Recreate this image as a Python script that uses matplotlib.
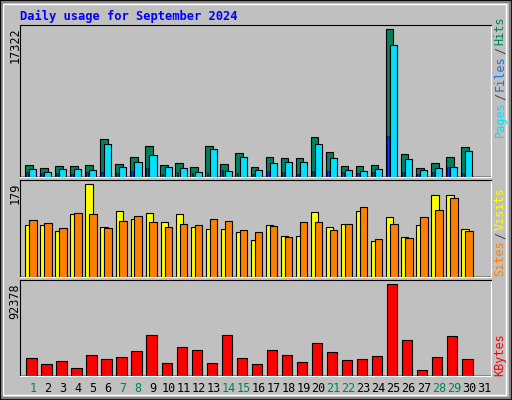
import numpy as np
import matplotlib
matplotlib.use("Agg")
import matplotlib.pyplot as plt
from matplotlib.patches import Rectangle

days = np.arange(1, 31)
day_labels = [str(d) for d in range(1, 32)]
weekend_days = [1, 7, 8, 14, 15, 21, 22, 28, 29]

hits = [1414, 1061, 1296, 1296, 1414, 4478, 1532, 2357, 3653, 1414, 1650, 1178, 3653, 1532, 2828,
        1178, 2357, 2239, 2239, 4713, 2946, 1296, 1296, 1414, 17322, 2710, 1061, 1650, 2357, 3535]
files = [943, 589, 943, 943, 825, 3889, 1178, 1768, 2592, 1178, 1061, 589, 3300, 707, 2357,
         825, 1650, 1768, 1768, 3889, 2239, 825, 707, 943, 15437, 2121, 825, 1061, 1178, 3064]
pages = [589, 471, 471, 354, 589, 589, 471, 707, 1061, 354, 589, 471, 471, 825, 471,
         354, 707, 589, 354, 707, 707, 589, 471, 589, 4831, 589, 354, 589, 1178, 471]
sites = [101, 101, 88, 121, 179, 97, 128, 113, 123, 107, 121, 97, 93, 93, 86,
         72, 101, 80, 80, 126, 97, 103, 128, 70, 115, 78, 101, 158, 158, 93]
visits = [111, 105, 95, 123, 121, 95, 109, 117, 107, 97, 103, 101, 113, 109, 90,
          86, 99, 78, 107, 107, 91, 103, 136, 74, 103, 76, 115, 130, 152, 88]
kbytes = [18274, 12182, 15228, 8122, 21319, 17258, 19289, 25380, 41623, 13198, 29441, 26395, 13198, 41623, 18274,
          12182, 26395, 21319, 14213, 33502, 24365, 16243, 17258, 20304, 92378, 36547, 6091, 19289, 40607, 17258]

BG = "#C0C0C0"
C_HITS, C_FILES, C_PAGES = "#00805C", "#00E0FF", "#0040FF"
C_SITES, C_VISITS, C_KB = "#FFFF00", "#FF8000", "#FF0000"
MONO = "DejaVu Sans Mono"

fig = plt.figure(figsize=(5.12, 4.0), dpi=100, facecolor=BG)
W, H = 512, 400

# bevel frame
fig.patches.append(Rectangle((0, 0), 1, 1, transform=fig.transFigure, fill=False,
                             edgecolor="black", lw=2))
fig.patches.append(Rectangle((2 / W, 2 / H), 1 - 4 / W, 1 - 4 / H, transform=fig.transFigure,
                             fill=False, edgecolor="#808080", lw=1.5))
fig.patches.append(Rectangle((3 / W, 5 / H), 1 - 9 / W, 1 - 9 / H, transform=fig.transFigure,
                             fill=False, edgecolor="white", lw=1))


def panel(top, bottom):
    ax = fig.add_axes([20 / W, 1 - bottom / H, 471 / W, (bottom - top) / H])
    ax.set_facecolor(BG)
    ax.set_xlim(0.135, 31.47)
    ax.set_xticks([])
    ax.set_yticks([])
    for s in ax.spines.values():
        s.set_color("black")
    ax.spines["right"].set_color("white")
    ax.spines["bottom"].set_color("white")
    for f in (1 / 3, 2 / 3):
        ax.axhline(f, color="#808080", lw=1.2, zorder=0)
    return ax


def rtext(pieces, x, y_bottom, size=8.5):
    # stacked vertical labels, bottom to top
    y = y_bottom
    for txt, col in pieces:
        t = fig.text(x / W, 1 - y / H, txt, rotation=90, color=col, family=MONO,
                     fontsize=size, ha="center", va="bottom")
        y -= len(txt) * 7.0 + 2


kw = dict(edgecolor="black", linewidth=0.8, align="edge")

ax1 = panel(25, 177)
ax1.set_ylim(0, 17322 * 151 / 147)
for f in (1 / 3, 2 / 3):
    ax1.lines.clear() if False else None
ax1.bar(days - 0.53, hits, width=0.51, color=C_HITS, **kw)
ax1.bar(days - 0.25, files, width=0.47, color=C_FILES, **kw)
ax1.bar(days - 0.45, pages, width=0.12, color=C_PAGES, edgecolor="black", linewidth=0.4, align="edge")
for a in [ax1]:
    for ln in a.lines:
        ln.set_transform(a.get_yaxis_transform())

ax2 = panel(180, 277)
ax2.set_ylim(0, 179 * 96 / 91.7)
ax2.bar(days - 0.51, sites, width=0.49, color=C_SITES, **kw)
ax2.bar(days - 0.25, visits, width=0.5, color=C_VISITS, **kw)
for ln in ax2.lines:
    ln.set_transform(ax2.get_yaxis_transform())

ax3 = panel(280, 376)
ax3.set_ylim(0, 92378 * 95.3 / 91)
ax3.bar(days - 0.45, kbytes, width=0.69, color=C_KB, **kw)
for ln in ax3.lines:
    ln.set_transform(ax3.get_yaxis_transform())

fig.text(20 / W, 1 - 16 / H, "Daily usage for September 2024", color="#0000FF",
         family=MONO, fontsize=8.7, fontweight="bold", va="center", ha="left")

for label, top in [("17322", 27), ("179", 183), ("92378", 283)]:
    fig.text(15 / W, 1 - top / H, label, rotation=90, family=MONO, fontsize=8.5,
             ha="center", va="top", color="black")

rtext([("Pages", C_FILES), ("/", "#404040"), ("Files", "#1E6EE0"), ("/", "#404040"), ("Hits", C_HITS)], 500, 137)
rtext([("Sites", C_VISITS), ("/", "#404040"), ("Visits", C_SITES)], 500, 276)
rtext([("KBytes", C_KB)], 500, 376)

for i, lab in enumerate(day_labels):
    d = i + 1
    col = C_HITS if d in weekend_days else "black"
    x = 33 + 15.03 * i
    fig.text(x / W, 1 - 389 / H, lab, color=col, family=MONO, fontsize=8.5,
             ha="center", va="center")

fig.savefig("out.png", dpi=100, facecolor=BG)
